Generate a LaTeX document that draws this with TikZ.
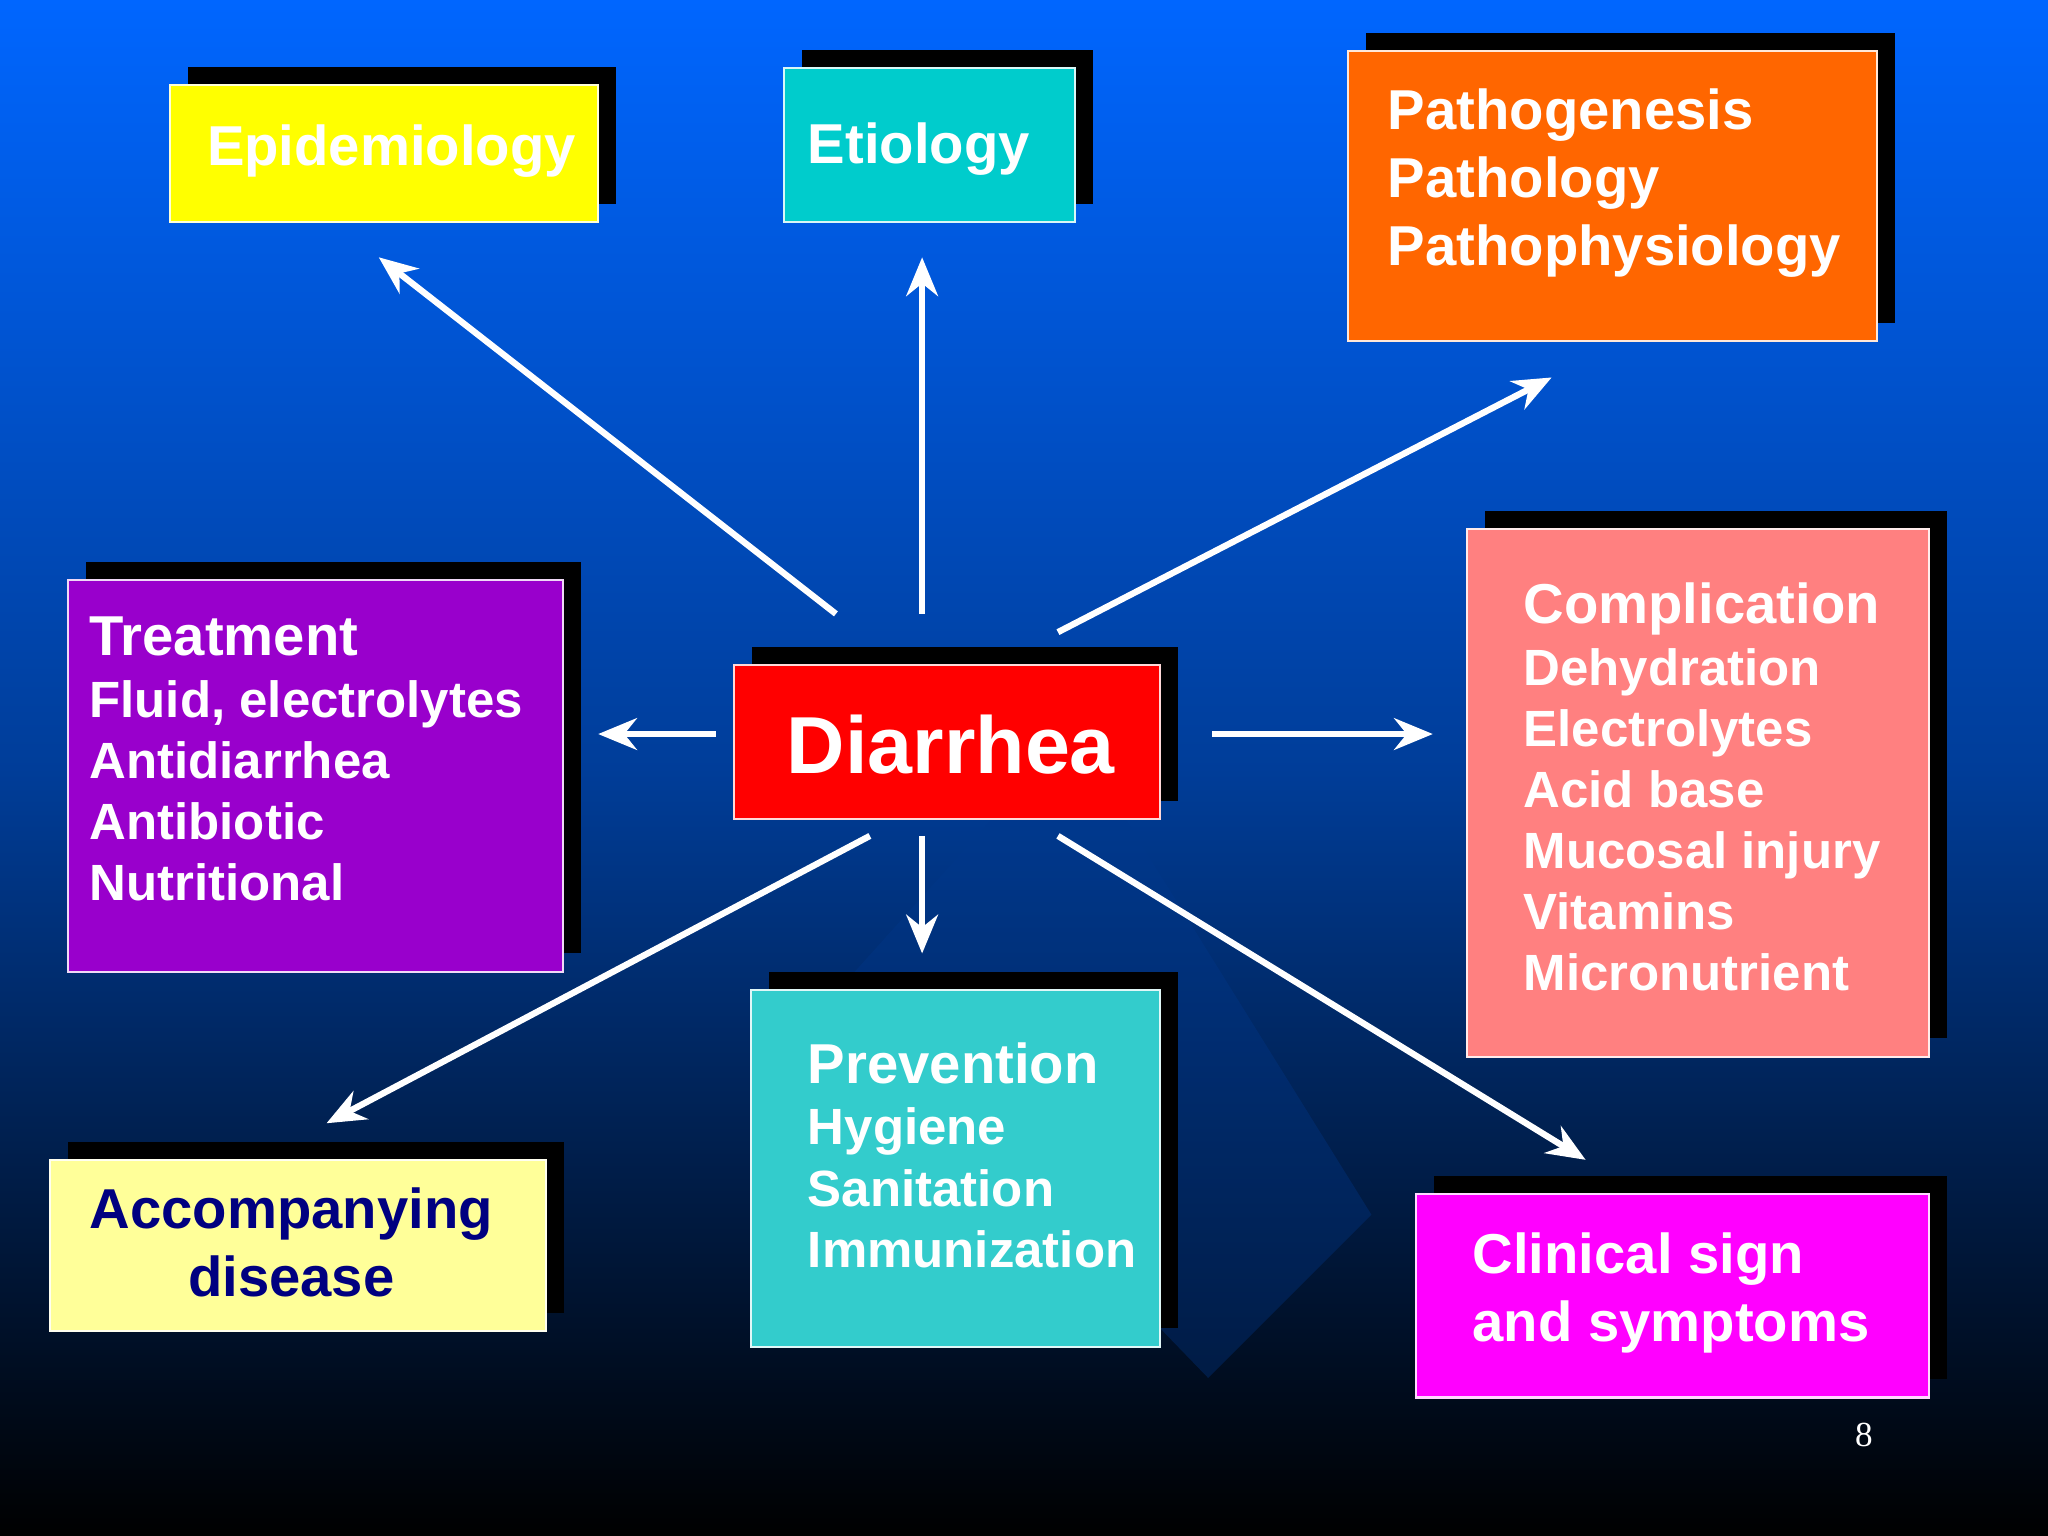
\documentclass[tikz,border=0pt]{standalone}
\usepackage{fontspec}
\setmainfont{Liberation Sans}
\newfontfamily\seriff{Liberation Serif}
\usetikzlibrary{arrows.meta}
\definecolor{bgtop}{RGB}{0,102,255}
\definecolor{cyel}{RGB}{255,255,0}
\definecolor{cteal}{RGB}{0,204,204}
\definecolor{corg}{RGB}{255,102,0}
\definecolor{cpur}{RGB}{153,0,204}
\definecolor{cred}{RGB}{255,0,0}
\definecolor{csal}{RGB}{255,128,128}
\definecolor{clyel}{RGB}{255,255,153}
\definecolor{cteal2}{RGB}{51,204,204}
\definecolor{cmag}{RGB}{255,0,255}
\definecolor{navy}{RGB}{0,0,128}
\tikzset{
 arr/.style={white,line width=1.8pt,-{Stealth[length=11pt,width=9pt]}},
 txt/.style={anchor=west,text=white,font=\bfseries,align=left,inner sep=0pt},
}
\newcommand{\mybox}[5]{% x1 y1 x2 y2 color
 \fill[black] (#1+14,#2-14) rectangle (#3+14,#4-14);
 \filldraw[fill=#5,draw=white!85!#5,line width=0.6pt] (#1,#2) rectangle (#3,#4);}
\begin{document}
\begin{tikzpicture}[x=0.013061cm,y=-0.013061cm]
\shade[top color=bgtop,bottom color=black,middle color=bgtop!60!black] (0,0) rectangle (1568,1176);
\useasboundingbox (0,0) rectangle (1568,1176);
\fill[bgtop!55!black,opacity=0.35] (820,560) -- (1050,930) -- (925,1055) -- (640,760) -- cycle;
\mybox{130}{65}{458}{170}{cyel}
\mybox{600}{52}{823}{170}{cteal}
\mybox{1032}{39}{1437}{261}{corg}
\mybox{52}{444}{431}{744}{cpur}
\mybox{562}{509}{888}{627}{cred}
\mybox{1123}{405}{1477}{809}{csal}
\mybox{38}{888}{418}{1019}{clyel}
\mybox{575}{758}{888}{1031}{cteal2}
\mybox{1084}{914}{1477}{1070}{cmag}
\node[txt,font=\bfseries\fontsize{16}{18}\selectfont] (epi) at (158,116) {Epidemiology};
\node[txt,font=\bfseries\fontsize{16}{18}\selectfont] (eti) at (618,114) {Etiology};
\node[txt,font=\bfseries\fontsize{16}{19.3}\selectfont] (pat) at (1062,140) {Pathogenesis\\Pathology\\Pathophysiology};
\node[txt,anchor=north west,font=\bfseries\fontsize{14.5}{17.4}\selectfont] (tre) at (68,472) {{\fontsize{16}{17.4}\selectfont Treatment}\\Fluid, electrolytes\\Antidiarrhea\\Antibiotic\\Nutritional};
\node[txt,font=\bfseries\fontsize{23}{26}\selectfont] (dia) at (602,570) {Diarrhea};
\node[txt,anchor=north west,font=\bfseries\fontsize{14.5}{17.4}\selectfont] (com) at (1166,446) {{\fontsize{16}{17.4}\selectfont Complication}\\Dehydration\\Electrolytes\\Acid base\\Mucosal injury\\Vitamins\\Micronutrient};
\node[txt,anchor=center,align=center,text=navy,font=\bfseries\fontsize{16}{19.3}\selectfont] (acc) at (223,951) {Accompanying\\disease};
\node[txt,anchor=north west,font=\bfseries\fontsize{14.5}{17.4}\selectfont] (pre) at (618,798) {{\fontsize{16}{17.4}\selectfont Prevention}\\Hygiene\\Sanitation\\Immunization};
\node[txt,font=\bfseries\fontsize{16}{19.3}\selectfont] (cli) at (1127,990) {Clinical sign\\and symptoms};
\node[text=white,font=\seriff\fontsize{10}{12}\selectfont] (pg) at (1427,1099) {8};
\coordinate (a1) at (640,470); \coordinate (b1) at (290,197);
\coordinate (a2) at (706,470); \coordinate (b2) at (706,197);
\coordinate (a3) at (810,484); \coordinate (b3) at (1188,289);
\coordinate (a4) at (548,562); \coordinate (b4) at (458,562);
\coordinate (a5) at (928,562); \coordinate (b5) at (1097,562);
\coordinate (a6) at (666,640); \coordinate (b6) at (250,860);
\coordinate (a7) at (706,640); \coordinate (b7) at (706,730);
\coordinate (a8) at (810,640); \coordinate (b8) at (1214,888);
\foreach \i in {1,...,8} \draw[arr] (a\i) -- (b\i);
\end{tikzpicture}
\end{document}
